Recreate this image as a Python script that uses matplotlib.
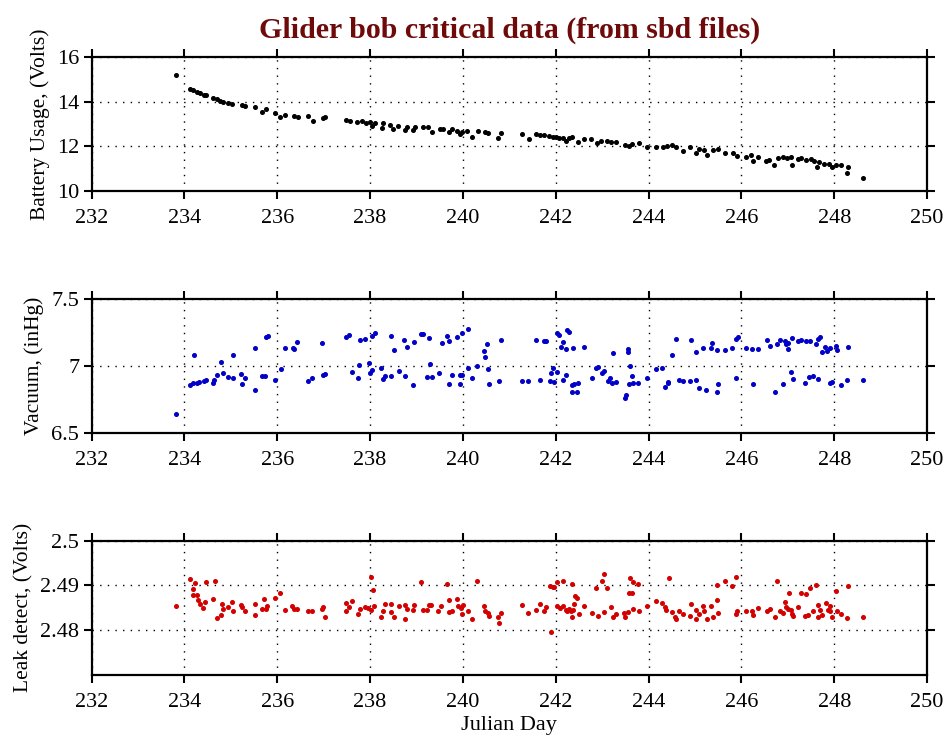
import matplotlib
matplotlib.use("Agg")
import matplotlib.pyplot as plt
from matplotlib.ticker import FuncFormatter

plt.rcParams['font.family'] = ['Liberation Serif', 'DejaVu Serif']

# battery (Volts)
bat_day = [233.82, 234.12, 234.19, 234.26, 234.33, 234.41, 234.46, 234.62, 234.69, 234.76,
           234.84, 234.94, 235.02, 235.23, 235.30, 235.53, 235.66, 235.76, 235.95, 236.06,
           236.17, 236.35, 236.45, 236.67, 236.76, 236.99, 237.03, 237.49, 237.57, 237.71,
           237.82, 237.92, 237.99, 238.03, 238.11, 238.25, 238.28, 238.43, 238.50, 238.61,
           238.75, 238.79, 238.93, 238.97, 239.15, 239.25, 239.33, 239.51, 239.58, 239.69,
           239.76, 239.87, 239.94, 239.97, 240.08, 240.19, 240.33, 240.48, 240.55, 240.76,
           240.81, 241.27, 241.43, 241.57, 241.65, 241.75, 241.86, 241.94, 242.01, 242.08,
           242.15, 242.22, 242.29, 242.36, 242.48, 242.61, 242.77, 242.88, 242.97, 243.10,
           243.18, 243.29, 243.50, 243.58, 243.65, 243.79, 243.97, 244.17, 244.32, 244.39,
           244.50, 244.60, 244.75, 244.90, 245.03, 245.09, 245.19, 245.26, 245.39, 245.49,
           245.64, 245.82, 245.90, 246.10, 246.21, 246.25, 246.35, 246.53, 246.60, 246.71,
           246.78, 246.89, 246.98, 247.07, 247.09, 247.21, 247.29, 247.39, 247.50, 247.57,
           247.64, 247.68, 247.79, 247.89, 247.96, 248.04, 248.14, 248.27, 248.30, 248.61]
bat_volts = [15.20, 14.57, 14.50, 14.42, 14.36, 14.30, 14.27, 14.14, 14.10, 14.02,
             13.98, 13.95, 13.88, 13.85, 13.80, 13.76, 13.55, 13.65, 13.47, 13.30,
             13.40, 13.35, 13.32, 13.37, 13.14, 13.25, 13.32, 13.17, 13.13, 13.10,
             13.13, 13.05, 13.10, 12.90, 13.02, 12.80, 13.02, 12.95, 12.76, 12.90,
             12.73, 12.85, 12.73, 12.85, 12.88, 12.85, 12.64, 12.79, 12.76, 12.64,
             12.76, 12.70, 12.55, 12.66, 12.70, 12.43, 12.67, 12.64, 12.58, 12.39,
             12.61, 12.53, 12.32, 12.53, 12.49, 12.49, 12.46, 12.43, 12.40, 12.37,
             12.35, 12.25, 12.37, 12.40, 12.19, 12.31, 12.34, 12.13, 12.25, 12.22,
             12.19, 12.20, 12.05, 12.02, 12.10, 12.13, 11.95, 11.95, 11.98, 12.01,
             12.04, 11.98, 11.77, 11.98, 11.68, 11.90, 11.83, 11.61, 11.83, 11.86,
             11.68, 11.68, 11.56, 11.53, 11.61, 11.35, 11.53, 11.35, 11.38, 11.16,
             11.46, 11.53, 11.46, 11.50, 11.16, 11.41, 11.46, 11.38, 11.41, 11.35,
             11.08, 11.31, 11.23, 11.20, 11.08, 11.17, 11.16, 10.81, 11.08, 10.58]

# vacuum (inHg)
vac_day = [233.82, 234.20, 234.12, 234.19, 234.26, 234.32, 234.41, 234.46, 234.61, 234.64,
           234.69, 234.79, 234.82, 234.94, 235.04, 235.05, 235.22, 235.25, 235.31, 235.53,
           235.53, 235.66, 235.73, 235.76, 235.79, 235.94, 236.07, 236.17, 236.33, 236.37,
           236.43, 236.66, 236.75, 236.96, 236.98, 237.03, 237.48, 237.55, 237.60, 237.74,
           237.77, 237.78, 237.89, 237.97, 238.00, 238.05, 238.05, 238.11, 238.23, 238.28,
           238.32, 238.46, 238.51, 238.46, 238.62, 238.74, 238.75, 238.79, 238.93, 238.95,
           239.09, 239.15, 239.23, 239.26, 239.28, 239.33, 239.49, 239.54, 239.65, 239.70,
           239.70, 239.76, 239.88, 239.94, 239.94, 239.97, 239.99, 240.10, 240.11, 240.19,
           240.31, 240.45, 240.47, 240.52, 240.53, 240.56, 240.77, 240.81, 241.27, 241.41,
           241.57, 241.67, 241.74, 241.80, 241.87, 241.89, 241.94, 241.97, 242.02, 242.03,
           242.06, 242.11, 242.16, 242.16, 242.22, 242.23, 242.25, 242.29, 242.34, 242.35,
           242.37, 242.39, 242.45, 242.48, 242.60, 242.78, 242.87, 242.90, 243.00, 243.03,
           243.12, 243.17, 243.21, 243.24, 243.30, 243.49, 243.51, 243.55, 243.56, 243.58,
           243.60, 243.65, 243.67, 243.78, 243.96, 244.17, 244.30, 244.36, 244.41, 244.42,
           244.50, 244.60, 244.66, 244.75, 244.90, 244.92, 245.02, 245.03, 245.08, 245.17,
           245.24, 245.35, 245.37, 245.47, 245.48, 245.49, 245.64, 245.80, 245.88, 245.89,
           245.93, 246.11, 246.23, 246.25, 246.35, 246.55, 246.62, 246.73, 246.76, 246.83,
           246.90, 246.94, 246.96, 247.00, 247.01, 247.06, 247.08, 247.11, 247.21, 247.29,
           247.38, 247.40, 247.46, 247.47, 247.54, 247.61, 247.65, 247.66, 247.70, 247.73,
           247.81, 247.85, 247.90, 247.92, 247.95, 248.03, 248.07, 248.15, 248.27, 248.30,
           248.61]
vac_inhg = [6.644, 7.080, 6.863, 6.873, 6.878, 6.883, 6.890, 6.895, 6.876, 6.900,
            6.935, 7.030, 6.948, 6.918, 7.087, 6.915, 6.943, 6.866, 6.915, 7.137,
            6.826, 6.925, 6.928, 7.216, 7.224, 6.898, 6.978, 7.137, 7.139, 7.127,
            7.179, 6.893, 6.913, 7.174, 6.938, 6.943, 7.219, 7.234, 6.955, 6.910,
            7.010, 7.192, 7.204, 7.022, 6.950, 6.970, 7.224, 7.244, 6.988, 6.908,
            6.925, 7.224, 7.119, 6.930, 6.963, 7.197, 6.930, 7.142, 6.858, 7.180,
            7.241, 7.241, 6.918, 7.209, 7.015, 6.923, 6.950, 7.174, 7.226, 7.187,
            6.871, 6.938, 7.214, 6.938, 6.871, 6.933, 7.249, 7.276, 6.990, 6.913,
            6.998, 7.112, 7.070, 7.167, 6.978, 6.871, 6.893, 7.194, 6.888, 6.888,
            7.197, 6.895, 7.187, 7.187, 6.890, 6.950, 6.983, 6.880, 7.246, 6.960,
            7.234, 7.144, 7.179, 6.895, 6.938, 7.129, 7.269, 7.254, 6.858, 6.806,
            7.139, 6.866, 6.806, 6.876, 7.144, 6.910, 6.988, 6.995, 6.953, 6.965,
            6.893, 6.910, 6.878, 7.100, 6.880, 6.761, 6.789, 7.104, 7.129, 6.871,
            7.005, 6.930, 6.878, 6.873, 6.910, 6.978, 6.990, 6.846, 6.883, 6.873,
            7.087, 7.199, 6.900, 6.888, 6.888, 7.197, 7.104, 6.900, 6.841, 7.132,
            6.821, 7.134, 7.174, 7.124, 6.808, 6.871, 7.119, 7.134, 6.910, 7.204,
            7.216, 7.137, 7.129, 6.871, 7.129, 7.197, 7.154, 6.808, 7.169, 7.197,
            6.871, 7.189, 7.169, 7.129, 7.174, 6.960, 7.209, 6.905, 7.187, 7.197,
            6.876, 7.189, 6.920, 7.189, 6.925, 7.169, 6.905, 7.199, 7.214, 7.104,
            7.144, 7.112, 7.132, 6.876, 6.885, 7.154, 7.119, 6.863, 6.900, 7.142,
            6.900]

# leak detect (Volts)
leak_day = [233.82, 234.12, 234.18, 234.23, 234.19, 234.26, 234.30, 234.33, 234.39, 234.44,
            234.47, 234.61, 234.65, 234.69, 234.78, 234.80, 234.82, 234.94, 235.03, 235.04,
            235.22, 235.25, 235.31, 235.53, 235.53, 235.66, 235.72, 235.75, 235.77, 235.95,
            236.06, 236.17, 236.32, 236.36, 236.43, 236.66, 236.75, 236.96, 236.99, 237.03,
            237.48, 237.49, 237.55, 237.60, 237.74, 237.78, 237.89, 237.96, 238.01, 238.07,
            238.01, 238.08, 238.23, 238.28, 238.32, 238.46, 238.46, 238.51, 238.62, 238.75,
            238.75, 238.79, 238.93, 238.95, 239.10, 239.15, 239.23, 239.26, 239.32, 239.47,
            239.52, 239.65, 239.70, 239.70, 239.76, 239.88, 239.90, 239.96, 239.97, 240.01,
            240.10, 240.19, 240.31, 240.45, 240.47, 240.53, 240.56, 240.76, 240.78, 240.81,
            241.27, 241.41, 241.57, 241.67, 241.74, 241.79, 241.89, 241.87, 241.94, 241.97,
            242.03, 242.03, 242.10, 242.16, 242.16, 242.22, 242.25, 242.29, 242.32, 242.35,
            242.36, 242.38, 242.39, 242.41, 242.45, 242.50, 242.60, 242.78, 242.87, 242.92,
            243.00, 243.03, 243.04, 243.10, 243.20, 243.24, 243.29, 243.47, 243.49, 243.56,
            243.58, 243.60, 243.65, 243.67, 243.67, 243.78, 243.79, 243.96, 244.17, 244.30,
            244.35, 244.37, 244.43, 244.50, 244.58, 244.60, 244.66, 244.75, 244.90, 244.92,
            245.02, 245.03, 245.08, 245.17, 245.19, 245.26, 245.35, 245.39, 245.47, 245.47,
            245.49, 245.64, 245.80, 245.88, 245.89, 245.91, 246.11, 246.23, 246.25, 246.35,
            246.55, 246.62, 246.73, 246.76, 246.83, 246.90, 246.94, 246.96, 247.02, 247.01,
            247.06, 247.08, 247.11, 247.21, 247.29, 247.38, 247.40, 247.43, 247.47, 247.54,
            247.61, 247.65, 247.66, 247.70, 247.74, 247.83, 247.86, 247.90, 247.92, 247.95,
            248.03, 248.07, 248.15, 248.27, 248.30, 248.61]
leak_volts = [2.4853, 2.4915, 2.4892, 2.4905, 2.4878, 2.4878, 2.4868, 2.4859, 2.4849, 2.4862,
              2.4908, 2.4869, 2.4910, 2.4827, 2.4835, 2.4859, 2.4847, 2.4851, 2.4862, 2.4844,
              2.4856, 2.4851, 2.4842, 2.4859, 2.4835, 2.4848, 2.4869, 2.4848, 2.4853, 2.4872,
              2.4883, 2.4845, 2.4853, 2.4847, 2.4847, 2.4842, 2.4842, 2.4847, 2.4851, 2.4829,
              2.4842, 2.4860, 2.4851, 2.4866, 2.4836, 2.4847, 2.4851, 2.4849, 2.4918, 2.4890,
              2.4845, 2.4853, 2.4829, 2.4842, 2.4859, 2.4859, 2.4841, 2.4830, 2.4853, 2.4826,
              2.4856, 2.4848, 2.4845, 2.4856, 2.4907, 2.4845, 2.4845, 2.4856, 2.4856, 2.4842,
              2.4854, 2.4903, 2.4868, 2.4841, 2.4842, 2.4869, 2.4853, 2.4849, 2.4836, 2.4856,
              2.4842, 2.4826, 2.4911, 2.4854, 2.4842, 2.4838, 2.4832, 2.4829, 2.4817, 2.4838,
              2.4856, 2.4838, 2.4845, 2.4858, 2.4843, 2.4851, 2.4795, 2.4899, 2.4896, 2.4896,
              2.4907, 2.4854, 2.4849, 2.4911, 2.4854, 2.4846, 2.4842, 2.4848, 2.4842, 2.4904,
              2.4829, 2.4846, 2.4858, 2.4877, 2.4871, 2.4836, 2.4854, 2.4839, 2.4895, 2.4831,
              2.4909, 2.4840, 2.4926, 2.4895, 2.4852, 2.4829, 2.4836, 2.4839, 2.4829, 2.4840,
              2.4884, 2.4917, 2.4883, 2.4908, 2.4848, 2.4903, 2.4842, 2.4854, 2.4866, 2.4860,
              2.4852, 2.4846, 2.4917, 2.4840, 2.4829, 2.4824, 2.4842, 2.4836, 2.4831, 2.4858,
              2.4846, 2.4825, 2.4837, 2.4854, 2.4842, 2.4825, 2.4854, 2.4830, 2.4867, 2.4902,
              2.4839, 2.4910, 2.4899, 2.4837, 2.4919, 2.4843, 2.4843, 2.4843, 2.4833, 2.4849,
              2.4843, 2.4848, 2.4829, 2.4910, 2.4843, 2.4839, 2.4863, 2.4852, 2.4884, 2.4848,
              2.4846, 2.4837, 2.4831, 2.4851, 2.4884, 2.4831, 2.4880, 2.4833, 2.4894, 2.4842,
              2.4902, 2.4829, 2.4856, 2.4846, 2.4833, 2.4861, 2.4845, 2.4854, 2.4842, 2.4829,
              2.4887, 2.4843, 2.4837, 2.4827, 2.4899, 2.4829]

x_ticks = [232, 234, 236, 238, 240, 242, 244, 246, 248, 250]

fig = plt.figure(figsize=(9.5, 7.41), dpi=100)
ax1 = fig.add_axes([0.0965, 0.7422, 0.8793, 0.1812])
ax2 = fig.add_axes([0.0965, 0.4152, 0.8793, 0.1812])
ax3 = fig.add_axes([0.0965, 0.0891, 0.8793, 0.1812])

panels = [
    (ax1, bat_day, bat_volts, 'black', 'Battery Usage, (Volts)', (10, 16), [10, 12, 14, 16]),
    (ax2, vac_day, vac_inhg, '#0000c8', 'Vacuum, (inHg)', (6.5, 7.5), [6.5, 7, 7.5]),
    (ax3, leak_day, leak_volts, '#d40000', 'Leak detect, (Volts)', (2.47, 2.50), [2.48, 2.49, 2.50]),
]

for ax, xs, ys, col, lab, lim, yt in panels:
    ax.plot(xs, ys, 'o', color=col, ms=2.6, mec=col)
    ax.set_xlim(232, 250)
    ax.set_ylim(*lim)
    ax.set_xticks(x_ticks)
    ax.set_yticks(yt)
    ax.yaxis.set_major_formatter(FuncFormatter(lambda v, p: '%g' % round(v, 4)))
    ax.set_ylabel(lab, fontsize=15.5, labelpad=5)
    ax.grid(True, color='black', linestyle=(0, (1, 4.5)), linewidth=1.0)
    ax.tick_params(direction='out', length=6, width=1.5, labelsize=16,
                   top=True, right=True, labeltop=False, labelright=False)
    ax.tick_params(axis='x', pad=7)
    ax.tick_params(axis='y', pad=3)
    for s in ax.spines.values():
        s.set_linewidth(1.6)

ax3.set_xlabel('Julian Day', fontsize=16, labelpad=3)
fig.text(0.536, 0.9595, 'Glider bob critical data (from sbd files)', ha='center', va='center',
         fontsize=21.5, fontweight='bold', color='#6e0a0a')

fig.savefig('out.png', dpi=100)
